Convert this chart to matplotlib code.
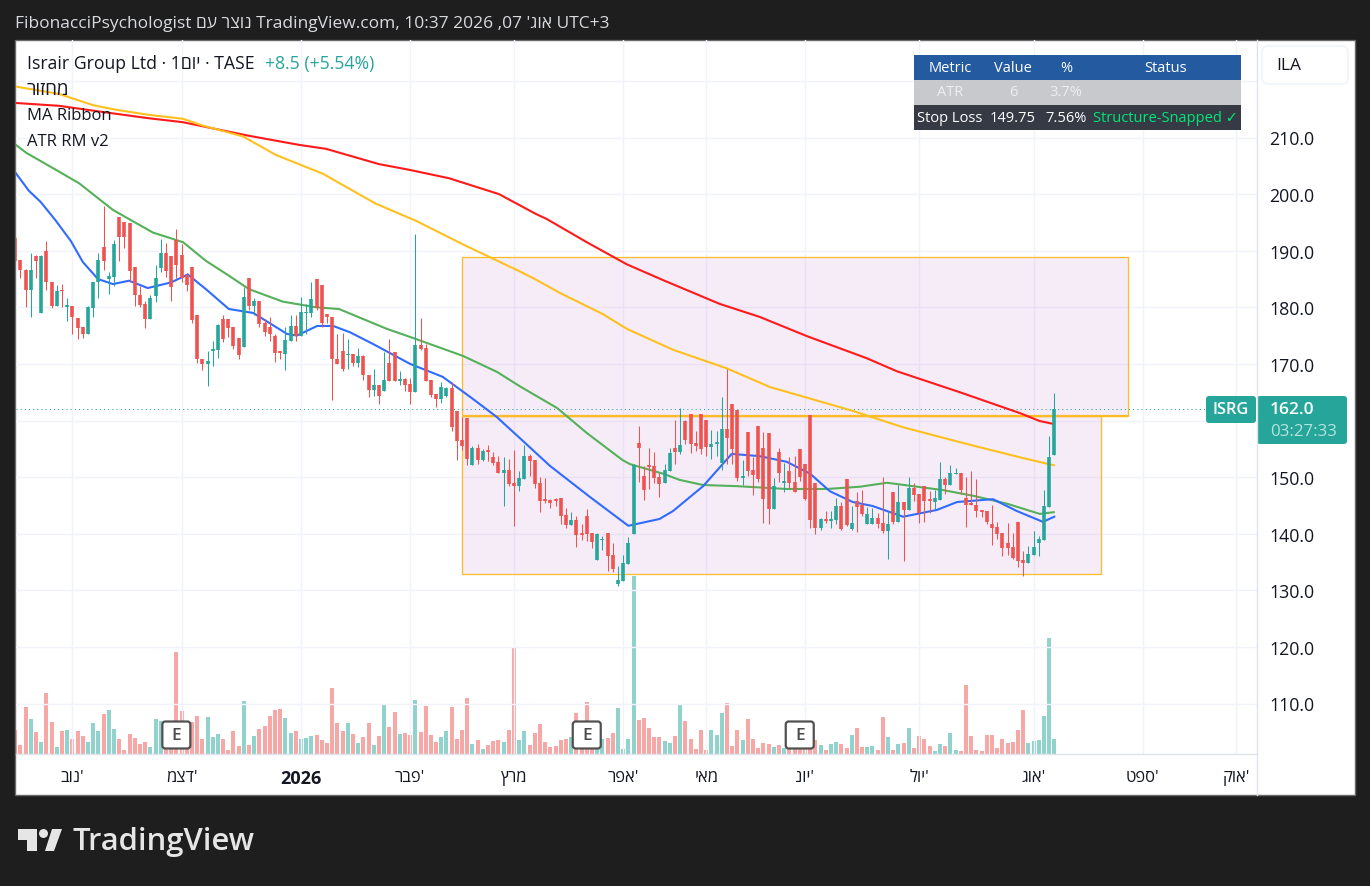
import matplotlib
matplotlib.use("Agg")
import matplotlib.pyplot as plt
from matplotlib.patches import Rectangle, FancyBboxPatch, Polygon, Circle

plt.rcParams['font.family'] = ['Open Sans', 'DejaVu Sans']

opens = [192.2,188.4,186.6,183.1,189.1,179.0,189.9,184.5,180.3,182.9,
         180.1,180.2,178.1,176.5,175.2,179.9,184.4,190.7,185.0,185.4,
         195.9,195.1,194.9,187.1,182.2,180.6,178.0,182.0,186.9,189.6,
         189.1,191.9,189.2,185.7,187.1,178.6,170.9,169.9,172.2,172.5,
         177.9,177.9,176.5,174.6,173.0,185.2,180.3,181.1,177.2,176.5,
         174.9,172.1,171.8,174.1,176.7,175.0,179.0,179.0,185.0,183.9,
         178.8,178.3,170.9,172.3,171.5,171.7,170.2,171.4,168.0,165.4,
         166.3,165.2,170.2,172.1,167.0,167.3,166.4,165.0,173.3,172.8,
         167.2,164.7,163.8,164.3,165.7,161.7,156.6,160.4,152.1,155.1,
         153.0,154.6,153.6,152.7,150.7,151.2,149.0,148.4,149.7,153.7,
         153.0,149.0,145.9,145.9,146.1,146.3,143.3,141.5,142.4,139.9,
         143.1,140.1,135.3,138.9,140.1,136.2,131.1,131.6,134.6,139.9,
         156.0,150.2,152.1,152.0,150.0,149.0,151.1,155.1,154.4,159.9,
         161.2,156.0,161.2,160.1,155.3,155.9,152.5,158.5,162.9,161.9,
         149.9,158.0,151.3,159.0,155.1,157.8,144.4,154.4,149.0,151.1,
         149.1,155.0,152.3,161.0,149.0,141.0,142.6,142.2,142.4,144.9,
         149.7,140.8,145.8,145.1,141.7,141.7,142.8,141.9,140.5,147.4,
         142.1,145.6,144.2,148.1,147.0,148.4,145.9,145.6,145.9,149.7,
         148.6,150.5,150.7,146.3,145.2,145.1,144.2,144.0,141.7,141.2,
         140.1,138.4,137.6,142.1,135.3,134.8,136.2,138.4,138.9,144.7,
         153.9]
highs = [192.4,188.4,186.7,189.6,189.2,189.2,191.7,184.5,183.9,184.1,
         181.6,180.2,178.1,176.5,180.2,184.5,189.6,197.9,186.3,191.9,
         195.9,195.1,194.9,187.1,183.8,181.1,182.2,187.5,192.1,191.4,
         189.1,193.8,191.2,186.1,187.1,178.6,170.9,172.3,174.0,177.0,
         178.6,177.9,176.5,174.6,183.6,185.2,181.6,181.2,177.9,178.3,
         175.3,172.3,176.5,178.6,178.6,181.8,180.6,184.5,185.0,183.9,
         178.8,178.3,175.3,175.5,174.4,171.7,172.8,171.6,168.0,169.1,
         166.3,172.1,174.4,172.1,168.7,167.5,167.5,193.0,178.1,173.5,
         167.2,164.7,166.8,165.9,166.8,161.7,160.6,160.4,155.5,155.8,
         155.0,155.7,154.4,153.7,153.5,153.2,154.8,151.1,155.7,154.1,
         153.0,150.0,149.8,146.1,146.3,146.3,144.5,143.8,143.1,141.7,
         144.4,140.1,140.1,139.6,140.1,138.3,134.3,136.2,139.4,152.3,
         159.0,152.0,155.1,154.4,150.7,152.3,155.1,160.1,162.2,160.1,
         161.2,158.1,161.2,160.1,158.3,158.1,164.2,169.1,162.9,161.9,
         153.0,158.0,153.6,159.0,158.0,157.8,149.9,155.1,152.5,153.6,
         153.7,155.0,152.3,161.0,149.0,142.8,144.0,144.0,146.3,145.6,
         149.7,144.9,147.4,147.7,144.7,144.5,143.7,150.0,144.0,147.4,
         148.6,145.6,150.0,149.0,147.0,148.4,147.5,147.7,152.7,150.0,
         152.1,151.6,150.7,150.0,151.1,149.7,144.2,144.0,145.1,142.1,
         140.1,141.9,140.1,142.1,136.9,137.8,140.5,139.6,147.7,157.3,
         164.9]
lows = [187.9,185.2,180.1,178.3,185.2,179.0,183.1,179.9,180.2,180.1,
        177.6,175.3,174.4,174.6,175.2,178.2,181.7,186.6,182.4,183.8,
        188.1,190.5,184.5,180.3,180.1,176.4,178.0,181.0,186.2,185.4,
        181.2,185.2,184.5,182.9,177.3,170.2,169.0,166.1,169.7,171.1,
        173.9,174.7,172.7,170.8,173.0,179.6,178.7,176.6,175.0,174.1,
        170.4,170.9,169.0,174.1,174.1,175.0,175.2,178.2,179.6,176.6,
        177.2,163.7,170.0,168.7,169.1,169.6,169.5,167.2,164.2,164.3,
        162.9,165.2,167.0,167.0,166.3,165.2,162.9,165.0,172.5,167.0,
        164.2,162.4,163.1,164.2,158.1,153.0,154.8,152.1,152.1,152.3,
        152.8,152.8,152.1,150.7,144.9,148.4,141.4,147.5,149.7,150.2,
        148.1,143.8,145.4,144.5,144.9,141.7,141.0,141.5,137.6,138.9,
        138.7,137.5,135.3,137.1,133.4,133.2,130.8,131.6,134.6,139.9,
        149.1,146.0,147.9,149.0,146.5,149.0,151.1,152.3,154.1,155.9,
        154.3,154.6,154.1,153.7,153.2,153.7,151.3,152.3,152.3,149.3,
        148.6,150.2,146.9,149.1,141.9,141.7,144.4,149.1,147.4,148.1,
        147.4,149.3,146.0,141.0,140.0,140.7,141.9,141.0,141.7,140.7,
        141.4,140.7,140.3,143.1,141.7,141.7,141.0,140.1,135.5,141.7,
        142.1,135.2,144.2,145.8,141.9,142.1,143.7,144.4,145.9,147.0,
        148.6,150.5,147.0,141.2,145.1,143.0,143.0,141.8,138.0,139.1,
        136.1,136.2,135.5,134.1,132.6,134.8,136.2,136.1,138.9,144.7,
        153.9]
closes = [188.2,186.6,183.1,186.6,188.2,189.1,184.4,180.2,182.9,182.8,
          180.2,178.3,176.4,175.2,180.1,184.5,188.4,188.1,185.5,191.2,
          192.5,192.5,186.5,182.2,180.4,178.0,181.6,185.2,189.6,186.5,
          183.6,187.4,185.2,184.0,177.8,170.8,169.9,170.5,172.6,176.9,
          174.4,176.3,173.2,171.6,181.8,180.3,181.1,177.1,175.7,175.2,
          172.0,172.0,174.2,176.7,175.0,179.2,179.2,181.5,179.8,177.2,
          178.2,170.8,170.0,169.1,171.8,170.2,171.4,168.0,165.4,166.3,
          164.3,167.2,167.0,167.0,167.3,166.3,165.0,173.3,172.6,167.0,
          164.5,163.8,165.9,165.7,158.8,156.4,155.5,153.2,155.1,153.0,
          154.6,154.5,152.5,150.7,151.2,148.8,148.4,149.8,153.7,152.8,
          148.8,145.8,145.8,145.4,145.8,143.1,141.5,142.4,139.8,139.8,
          139.9,138.5,139.9,139.1,136.1,133.8,131.8,134.8,138.3,152.1,
          155.1,147.7,151.8,149.9,148.8,151.3,154.3,154.4,155.7,156.6,
          155.9,155.5,155.0,155.3,155.9,156.0,158.5,156.9,155.0,149.9,
          150.2,151.1,150.4,149.7,146.1,144.4,148.4,150.7,149.1,149.0,
          147.4,150.0,146.1,142.4,141.0,142.6,142.2,142.6,144.9,140.8,
          141.5,141.9,144.7,143.5,143.5,142.8,141.7,140.5,141.7,142.1,
          145.6,144.2,148.1,146.8,143.7,145.8,145.8,146.3,149.7,148.6,
          150.7,150.7,147.7,145.1,145.1,144.0,143.8,142.1,141.0,139.9,
          137.5,137.5,135.7,135.2,134.8,136.4,137.6,139.1,144.9,153.5,
          162.0]
volumes = [24,9,47,35,22,12,61,32,7,23,
           24,15,23,18,12,31,23,40,44,25,
           15,4,20,16,10,12,7,35,33,6,
           8,102,43,8,32,38,15,37,17,20,
           15,4,23,8,53,9,18,25,28,38,
           44,45,36,21,23,15,16,18,19,14,
           11,66,31,23,31,20,11,17,31,9,
           18,50,27,42,20,21,19,54,22,48,
           19,12,17,23,47,15,24,56,10,14,
           5,9,13,14,12,24,106,14,23,9,
           21,30,12,7,8,14,15,17,41,12,
           52,12,13,15,16,21,46,5,15,178,
           34,36,26,17,17,13,11,18,49,33,
           15,5,24,4,24,19,41,51,8,24,
           14,35,15,6,11,10,7,9,6,6,
           6,6,6,8,14,9,4,10,12,10,
           6,19,26,7,7,8,4,37,17,4,
           10,11,26,6,18,15,8,3,10,8,
           21,4,3,69,18,4,3,19,19,6,
           15,11,12,24,44,11,13,14,38,116,
           15]

ma_red_index = [0.1,8.4,16.1,25.7,32.3,38.6,45,54.6,59.8,70,75.8,83.5,93.1,100.2,102.3,110,117.7,124.7,135.6,143.3,152.4,163.9,169.7,181.8,193.4,197.2,199.8]
ma_red = [216.1,215.6,214.6,213.4,212.7,211.5,210.3,208.7,208.0,205.3,204.3,202.8,200.0,196.5,195.6,191.5,187.6,184.8,180.6,178.3,174.9,171.0,168.7,165.0,161.3,159.9,159.4]
ma_yellow_index = [0.1,8.4,15,19.4,25.7,32.3,36.1,43.8,50.2,59.2,69.4,77.1,86.2,97.2,100.2,104.9,113.1,117.7,126.6,137,145.3,152.9,161.2,170.9,183.8,194.7,199.9]
ma_yellow = [219.0,217.7,215.7,214.9,214.0,213.3,212.1,210.2,206.9,203.6,198.3,195.3,191.1,186.3,184.9,182.5,178.8,176.2,172.5,169.2,165.9,163.9,161.7,158.8,155.7,153.2,152.1]
ma_green_index = [0.1,2.1,7.8,12.3,18.8,26.5,32.3,36.7,41.1,45,51.5,57.9,62.3,71.5,76.5,86.2,92.7,97.2,104.3,110,116.9,118.3,124.7,127.9,132.4,138.9,148.5,156.2,162.6,167.8,178.6,184.4,190.9,197.2,199.9]
ma_green = [208.7,207.3,204.3,201.9,197.2,193.2,191.5,188.2,185.6,183.2,181.0,180.0,179.7,176.2,174.6,171.4,168.6,166.0,162.2,157.8,153.0,152.3,150.6,149.5,148.6,148.4,147.9,147.9,148.3,149.0,147.7,146.7,145.3,143.5,143.8]
ma_blue_index = [0.1,2.6,4.9,7.8,10.7,13,15.9,18.8,21.9,25.5,30,33.2,36.7,41.1,45.8,52.3,54.2,58.1,61.2,64.4,68.9,76,82.3,88.1,92.7,97.7,102.9,110.6,118,124,126.6,132.4,137.9,143.3,148.5,153,156.8,161.2,165,170.9,177.4,181.3,188.2,192.8,197.8,200]
ma_blue = [203.7,200.6,198.6,195.3,191.7,188.0,185.0,184.1,184.7,183.4,184.4,185.8,183.2,179.7,179.0,175.3,175.0,176.7,176.7,175.6,173.5,170.0,167.7,163.8,160.6,156.4,152.0,146.5,141.4,142.6,144.0,148.4,154.1,153.7,152.7,150.6,147.5,145.6,144.9,143.0,144.2,145.6,146.1,144.0,142.1,143.0]

zone_x = [86.0, 214.2, 209.0]          # start, profit-box end, stop-box end (bar index)
zone_prices = [188.9, 160.8, 132.9]    # target, entry, stop
last_price = 162.0
price_ticks = [110,120,130,140,150,160,170,180,190,200,210,220]
price_labels = ['110.0','120.0','130.0','140.0','150.0','160.0','170.0','180.0','190.0','200.0','210.0','']
month_ticks = [11,32,55,76,96,117,133,152,174,196,217,235]
month_labels = ["בונ'","מצד'","2026","רבפ'","ץרמ","רפא'","יאמ","נוי'","לוי'","גוא'","טפס'","קוא'"]
earnings_index = [31,110,151]

assert all(len(s) == 201 for s in (opens, highs, lows, closes, volumes))
assert len(ma_blue) == len(ma_blue_index) and len(ma_red) == len(ma_red_index)
assert len(ma_yellow) == len(ma_yellow_index) and len(ma_green) == len(ma_green_index)

W, H = 1370, 887
UP, DOWN, DARK = '#26a69a', '#ef5350', '#131722'
ZONE_EDGE = '#fbbc27'
ZONE_FILL = (0.61, 0.15, 0.69, 0.085)

fig = plt.figure(figsize=(W/100, H/100), dpi=100, facecolor='#1e1e1e')

bg = fig.add_axes([0, 0, 1, 1], zorder=0)
bg.set_xlim(0, W); bg.set_ylim(H, 0); bg.axis('off')
bg.add_patch(Rectangle((15, 41), 1340, 755, fc='white', ec='#6a6a6a', lw=1))

L, R, T, B = 16, 1257, 41, 755
rect = [L/W, 1-B/H, (R-L)/W, (B-T)/H]
ax = fig.add_axes(rect, zorder=2)
ax.patch.set_visible(False)
axv = fig.add_axes(rect, zorder=1, sharex=ax)
axv.patch.set_visible(False)
for s in axv.spines.values():
    s.set_visible(False)
axv.set_yticks([]); axv.tick_params(axis='x', length=0, labelbottom=False)
axv.set_ylim(0, 714)

step = 5.195
x0 = 15.3
ax.set_xlim((L-x0)/step, (R-x0)/step)
ax.set_ylim(210-(B-138.5)/5.66, 210-(T-138.5)/5.66)

idx = list(range(len(closes)))
colors = [UP if c >= o else DOWN for o, c in zip(opens, closes)]

axv.vlines(idx, 0, volumes, colors=colors, alpha=0.5, lw=2.9, capstyle='butt')

for s in ax.spines.values():
    s.set_visible(False)
ax.set_axisbelow(True)
ax.grid(True, color='#f0f3fa', lw=1)
ax.yaxis.tick_right()
ax.set_yticks(price_ticks, price_labels)
ax.set_xticks(month_ticks, month_labels)
ax.tick_params(axis='y', length=0, pad=9, labelsize=12.8, labelcolor=DARK)
ax.tick_params(axis='x', length=0, pad=11, labelsize=12, labelcolor=DARK)
for t in ax.get_yticklabels():
    t.set_va('center_baseline')
for t in ax.get_xticklabels():
    if t.get_text() == '2026':
        t.set_fontweight('bold')
        t.set_fontsize(13)

ax.add_patch(Rectangle((zone_x[0], zone_prices[1]), zone_x[1]-zone_x[0], zone_prices[0]-zone_prices[1],
                       fc=ZONE_FILL, ec=ZONE_EDGE, lw=0.9, zorder=2))
ax.add_patch(Rectangle((zone_x[0], zone_prices[2]), zone_x[2]-zone_x[0], zone_prices[1]-zone_prices[2],
                       fc=ZONE_FILL, ec=ZONE_EDGE, lw=0.9, zorder=2))
ax.plot([zone_x[0], zone_x[1]], [zone_prices[1]]*2, color=ZONE_EDGE, lw=1.6, zorder=2.1, solid_capstyle='butt')

ax.axhline(last_price, color=UP, lw=0.75, ls=(0, (1, 3)), zorder=2.2)

ax.plot(ma_red_index, ma_red, color='#ff1a1a', lw=1.5, zorder=3)
ax.plot(ma_yellow_index, ma_yellow, color='#ffc01f', lw=1.5, zorder=3)
ax.plot(ma_green_index, ma_green, color='#55b05a', lw=1.5, zorder=3)
ax.plot(ma_blue_index, ma_blue, color='#2f6bff', lw=1.5, zorder=3)

ax.vlines(idx, lows, highs, colors=colors, lw=0.75, zorder=4)
ax.vlines(idx, [min(o, c) for o, c in zip(opens, closes)],
          [max(max(o, c), min(o, c) + 0.25) for o, c in zip(opens, closes)],
          colors=colors, lw=2.6, capstyle='butt', zorder=5)

ov = fig.add_axes([0, 0, 1, 1], zorder=3)
ov.set_xlim(0, W); ov.set_ylim(H, 0); ov.axis('off')

ov.plot([R, R], [T, 796], color='#e0e3eb', lw=1)
ov.plot([L, R], [B, B], color='#e0e3eb', lw=1)

def txt(x, y, s, size=12, color=DARK, ha='left', **kw):
    return ov.text(x, y + 1.5, s, fontsize=size, color=color, ha=ha, va='center', **kw)

for e in earnings_index:
    cx = x0 + step * e
    ov.add_patch(FancyBboxPatch((cx-14, 722.5), 28, 27, boxstyle='round,pad=0,rounding_size=3',
                                fc='white', ec='#505050', lw=1.6))
    txt(cx, 735, 'E', size=12.5, color='#4a4a4a', ha='center', fontweight='semibold')

txt(15, 22, "FibonacciPsychologist םע רצונ TradingView.com, 10:37 2026 ,07 'גוא UTC+3", size=12.5, color='#d8dae0')
txt(27, 62.5, "Israir Group Ltd · 1םוי · TASE", size=12.7)
txt(265, 62.5, "+8.5 (+5.54%)", size=12.7, color=UP)
txt(27, 88.5, "רוזחמ", size=13.5)
txt(27, 114.5, "MA Ribbon", size=12)
txt(27, 140.5, "ATR RM v2", size=12)

# table
tx, tw = 914, 327
ov.add_patch(Rectangle((tx, 56), tw, 25, fc='#245a9f', ec='none'))
ov.add_patch(Rectangle((tx, 81), tw, 25, fc='#c8c9cd', ec='none'))
ov.add_patch(Rectangle((tx, 106), tw, 25, fc='#363a45', ec='none'))
for x, s in zip([950, 1013, 1066, 1166], ['Metric', 'Value', '%', 'Status']):
    txt(x, 66.5, s, size=10.5, color='white', ha='center')
for x, s in zip([950, 1013, 1066], ['ATR', '6', '3.7%']):
    txt(x, 91.5, s, size=10.5, color='#eceef2', ha='center')
for x, s in zip([950, 1013, 1066], ['Stop Loss', '149.75', '7.56%']):
    txt(x, 116.5, s, size=10.5, color='white', ha='center')
txt(1165, 116.5, 'Structure-Snapped ✓', size=10.5, color='#00e676', ha='center')

# currency box
ov.add_patch(FancyBboxPatch((1262, 47), 86, 38, boxstyle='round,pad=0,rounding_size=6', fc='white', ec='#f0f3fa', lw=1.2))
txt(1276, 64.5, 'ILA', size=12.5)

# price tags
ov.add_patch(FancyBboxPatch((1206, 397), 50, 27, boxstyle='round,pad=0,rounding_size=3', fc=UP, ec='none'))
ov.add_patch(FancyBboxPatch((1257, 397), 90, 48, boxstyle='round,pad=0,rounding_size=3', fc=UP, ec='none'))
txt(1231, 409, 'ISRG', size=11.8, color='white', ha='center', fontweight='semibold')
txt(1270, 408.5, '162.0', size=12.5, color='white', fontweight='semibold')
txt(1270, 431, '03:27:33', size=12.2, color='#b5e2dd')

# watermark
ov.add_patch(Polygon([(18, 830), (37, 830), (37, 852), (27, 852), (27, 841), (18, 841)], fc='#e6e6e6', ec='none'))
ov.add_patch(Circle((43.5, 834.5), 4.5, fc='#e6e6e6', ec='none'))
ov.add_patch(Polygon([(52, 830), (62, 830), (54, 852), (45, 852)], fc='#e6e6e6', ec='none'))
txt(73, 840.5, 'TradingView', size=22.3, color='#e6e6e6', fontweight='semibold')

fig.savefig('out.png', dpi=100, facecolor=fig.get_facecolor())
